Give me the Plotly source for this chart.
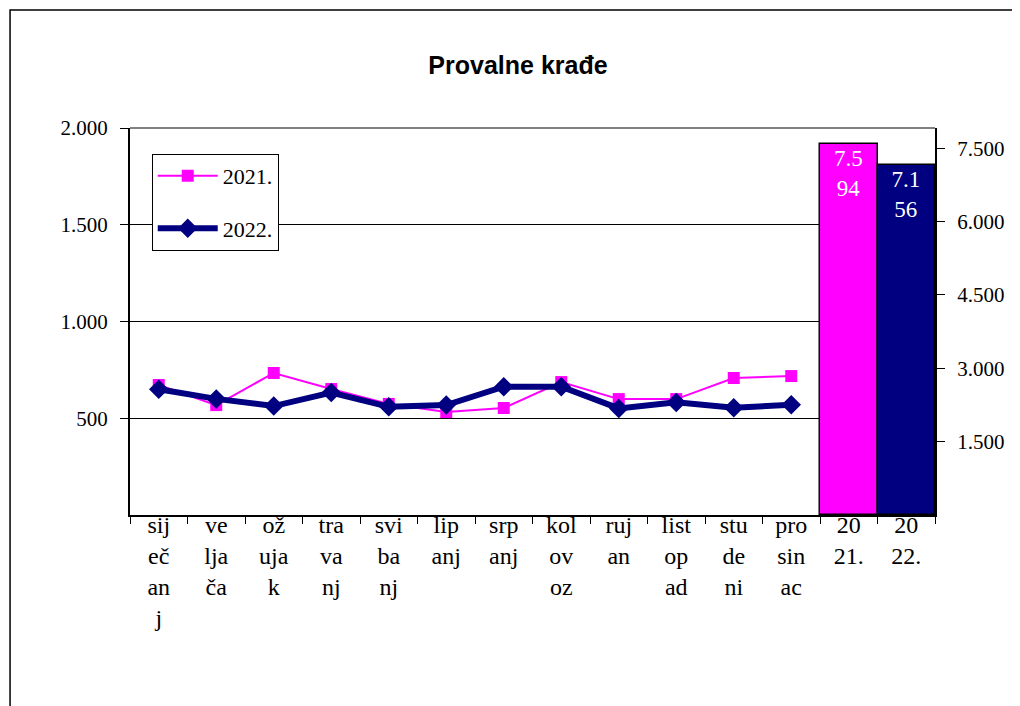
import plotly.graph_objects as go

months = ["siječanj", "veljača", "ožujak", "travanj", "svibanj", "lipanj",
          "srpanj", "kolovoz", "rujan", "listopad", "studeni", "prosinac"]
month_labels = ["sij<br>eč<br>an<br>j", "ve<br>lja<br>ča", "ož<br>uja<br>k", "tra<br>va<br>nj",
                "svi<br>ba<br>nj", "lip<br>anj", "srp<br>anj", "kol<br>ov<br>oz", "ruj<br>an",
                "list<br>op<br>ad", "stu<br>de<br>ni", "pro<br>sin<br>ac"]
years = ["2021.", "2022."]
year_labels = ["20<br>21.", "20<br>22."]

v2021 = [672, 568, 734, 651, 574, 532, 553, 687, 599, 599, 708, 718]
v2022 = [650, 600, 563, 633, 559, 568, 663, 663, 551, 582, 554, 570]
totals = [7594, 7156]
total_text = ["7.5<br>94", "7.1<br>56"]

PINK = "#FF00FF"
NAVY = "#000080"
SERIF = "Liberation Serif, Times New Roman, serif"

cats = months + years
fig = go.Figure()
fig.add_trace(go.Scatter(x=months, y=v2021, name="2021.", mode="lines+markers",
                         legendgroup="a",
                         line=dict(color=PINK, width=2),
                         marker=dict(symbol="square", size=12, color=PINK)))
fig.add_trace(go.Scatter(x=months, y=v2022, name="2022.", mode="lines+markers",
                         legendgroup="b",
                         line=dict(color=NAVY, width=6),
                         marker=dict(symbol="diamond", size=15, color=NAVY)))
fig.add_trace(go.Bar(x=years, y=totals, yaxis="y2", showlegend=False,
                     marker=dict(color=[PINK, NAVY], line=dict(color="black", width=1.5)),
                     text=total_text, textposition="inside", insidetextanchor="end",
                     textfont=dict(color="white", size=23, family=SERIF),
                     width=1.0))

fig.update_layout(
    width=1020, height=706,
    margin=dict(l=122, r=93, t=120, b=199),
    paper_bgcolor="white", plot_bgcolor="white",
    separators=",.",
    bargap=0,
    title=dict(text="<b>Provalne krađe</b>", x=0.5, xanchor="center",
               y=1 - 57 / 706, yanchor="middle",
               font=dict(family="Liberation Sans, Arial, sans-serif", size=25, color="black")),
    font=dict(family=SERIF, size=20, color="black"),
    xaxis=dict(type="category", categoryorder="array", categoryarray=cats,
               tickmode="array", tickvals=cats, ticktext=month_labels + year_labels,
               tickson="boundaries", ticks="outside", ticklen=7, tickcolor="black",
               ticklabelstandoff=-13,
               showline=True, linecolor="black", linewidth=2, showgrid=False,
               tickfont=dict(family=SERIF, size=24, color="black"),
               range=[-0.5, 13.5], tickangle=0),
    yaxis=dict(range=[0, 2000], tickvals=[500, 1000, 1500, 2000], tickformat=",d",
               ticks="outside", ticklen=8, tickcolor="black", ticklabelstandoff=8,
               showline=True, linecolor="black", linewidth=2,
               showgrid=True, gridcolor="black", gridwidth=1, zeroline=False,
               tickfont=dict(family=SERIF, size=21, color="black")),
    yaxis2=dict(range=[0, 7912], overlaying="y", side="right",
                tickvals=[1500, 3000, 4500, 6000, 7500], tickformat=",d",
                ticks="outside", ticklen=8, tickcolor="black", ticklabelstandoff=8,
                showline=True, linecolor="black", linewidth=2,
                showgrid=False, zeroline=False,
                tickfont=dict(family=SERIF, size=21, color="black")),
    legend=dict(x=0.027, y=0.933, xanchor="left", yanchor="top",
                bordercolor="black", borderwidth=1, bgcolor="white",
                font=dict(family=SERIF, size=22, color="black"),
                tracegroupgap=21, itemwidth=60),
    shapes=[
        dict(type="line", xref="paper", yref="paper", x0=0, x1=1, y0=1, y1=1,
             line=dict(color="#808080", width=2)),
        dict(type="rect", xref="paper", yref="paper", x0=-0.149, x1=1.3,
             y0=-0.6, y1=1.305, line=dict(color="black", width=1.5),
             fillcolor="rgba(0,0,0,0)", layer="below"),
    ],
)

fig.write_html("out.html")
